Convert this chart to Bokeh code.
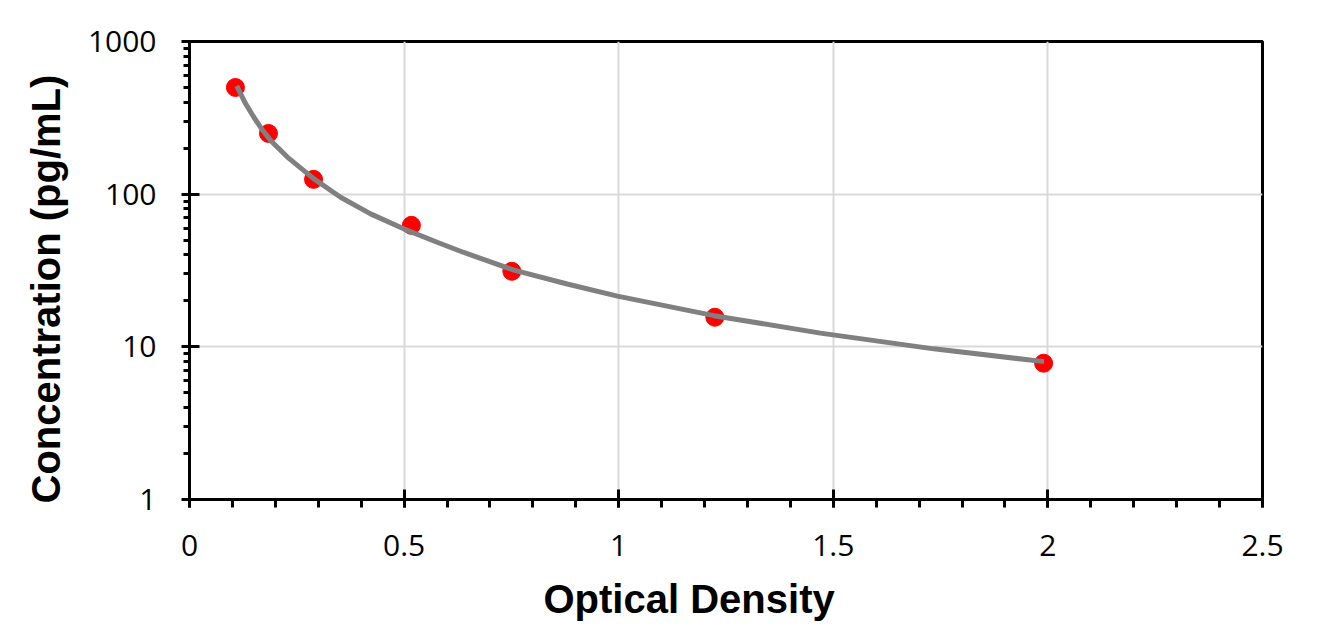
from bokeh.plotting import figure
from bokeh.models import Range1d, NumeralTickFormatter, LogTicker, SingleIntervalTicker, Title
from bokeh.embed import file_html
from bokeh.resources import INLINE

# Standard points (Optical Density vs Concentration)
od = [0.107, 0.184, 0.289, 0.517, 0.751, 1.224, 1.990]
conc = [500, 250, 125, 62.5, 31.25, 15.625, 7.8125]

# Fitted curve
curve_od = [0.110, 0.130, 0.150, 0.170, 0.189, 0.228, 0.290, 0.352, 0.422, 0.499,
            0.577, 0.639, 0.756, 0.880, 0.997, 1.222, 1.470, 1.734, 1.991]
curve_conc = [512, 395, 319, 263, 225, 175, 126, 95.5, 74.3, 59.3,
              48.4, 41.5, 31.8, 25.8, 21.5, 16.0, 12.3, 9.7, 8.0]

x_title = "Optical Density"
y_title = "Concentration (pg/mL)"

p = figure(width=1328, height=640,
           x_range=Range1d(0, 2.5), y_range=Range1d(1, 1000),
           y_axis_type="log", output_backend="svg", toolbar_location=None,
           min_border_left=189, min_border_right=66,
           min_border_top=41, min_border_bottom=141)

p.scatter(od, conc, size=18, color="#ff0000", line_color="#ff0000")
p.line(curve_od, curve_conc, line_color="#808080", line_width=5)

p.outline_line_color = "black"
p.outline_line_width = 3
p.outline_line_alpha = 1

p.xaxis.ticker = SingleIntervalTicker(interval=0.5, num_minor_ticks=5)
p.xaxis.formatter = NumeralTickFormatter(format="0.[0]")
p.yaxis.ticker = LogTicker(num_minor_ticks=10, mantissas=[1])
p.yaxis.formatter = NumeralTickFormatter(format="0")

for ax in (p.xaxis[0], p.yaxis[0]):
    ax.axis_line_color = "black"
    ax.axis_line_width = 3
    ax.major_tick_line_color = "black"
    ax.major_tick_line_width = 3
    ax.minor_tick_line_color = "black"
    ax.minor_tick_line_width = 3
    ax.major_label_text_font = "Open Sans"
    ax.major_label_text_font_size = "30px"
    ax.major_label_text_color = "black"

p.xaxis.major_tick_out = 8
p.xaxis.major_tick_in = 10
p.xaxis.minor_tick_out = 8
p.xaxis.minor_tick_in = 0
p.xaxis.major_label_standoff = 27

p.yaxis.major_tick_out = 8
p.yaxis.major_tick_in = 10
p.yaxis.minor_tick_out = 6
p.yaxis.minor_tick_in = 0
p.yaxis.major_label_standoff = 25

# Axis titles (placed off-centre as in the reference)
x_lab = Title(text=x_title, align="left", offset=354, standoff=32,
              text_font="Liberation Sans", text_font_style="bold",
              text_font_size="40px", text_color="black")
y_lab = Title(text=y_title, align="left", offset=-4, standoff=30,
              vertical_align="top",
              text_font="Liberation Sans", text_font_style="bold",
              text_font_size="40px", text_color="black")
p.add_layout(x_lab, "below")
p.add_layout(y_lab, "left")

p.xgrid.grid_line_color = "#d9d9d9"
p.xgrid.grid_line_width = 2
p.ygrid.grid_line_color = "#d9d9d9"
p.ygrid.grid_line_width = 2

open("out.html", "w").write(file_html(p, INLINE))
